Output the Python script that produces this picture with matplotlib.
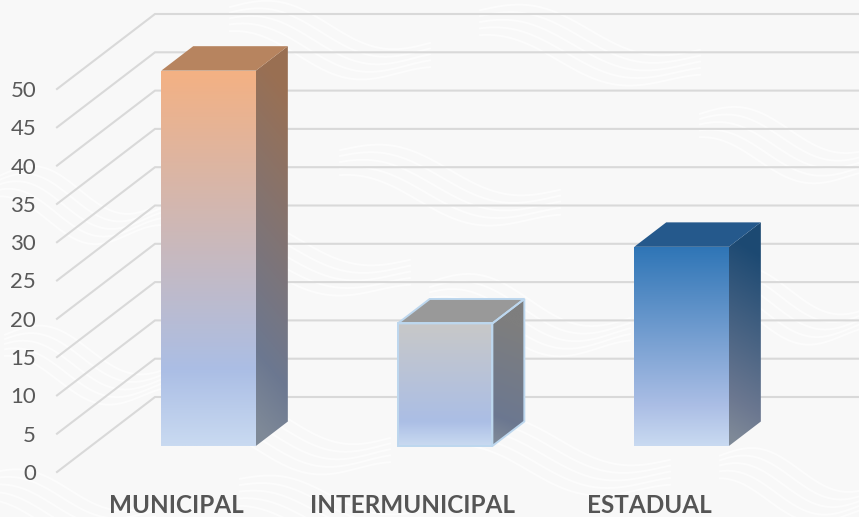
import numpy as np
import matplotlib
matplotlib.use('Agg')
import matplotlib.pyplot as plt
from matplotlib.colors import LinearSegmentedColormap
from matplotlib.patches import Polygon

categories = ['MUNICIPAL', 'INTERMUNICIPAL', 'ESTADUAL']
values = [49, 16, 26]
value_ticks = [0, 5, 10, 15, 20, 25, 30, 35, 40, 45, 50]
top_colors = ['#F4B183', '#C8C8C8', '#2E75B6']
lid_colors = ['#B7845F', '#999999', '#25598C']
edge_colors = ['none', '#BDD7EE', 'none']
mid_color = '#ABBEE5'
low_color = '#C9DAF1'

W, H = 859, 517
XSTEP = 236.5       # pixels per category
YSTEP = 7.66        # pixels per value unit
DEPTH_X = 98 / XSTEP
DEPTH_Y = 75 / YSTEP
BAR_W = 0.4
BAR_SHIFT = -0.006
D0, D1 = 0.347, 0.673

plt.rcParams['font.family'] = ['Lato', 'DejaVu Sans']

fig = plt.figure(figsize=(W / 100, H / 100), dpi=100, facecolor='#F8F8F8')

# faint wavy texture behind the chart
bg = fig.add_axes([0, 0, 1, 1])
bg.set_xlim(0, W)
bg.set_ylim(H, 0)
bg.axis('off')
def waves(cx, cy, length, amp, count=5, gap=9):
    x = np.linspace(cx - length / 2, cx + length / 2, 120)
    for i in range(count):
        y = cy + i * gap + amp * np.sin((x - cx + i * 8) / length * 2 * np.pi)
        y = y + (x - cx) * 0.18
        bg.plot(x, y, color='white', lw=1.4, alpha=0.6)

for cx, cy, ln, amp in [(330, 25, 200, 14), (590, 30, 220, 14), (790, 130, 180, 14),
                        (450, 170, 220, 14), (80, 190, 160, 16), (300, 240, 220, 14),
                        (530, 300, 200, 16), (790, 290, 170, 16), (90, 350, 170, 16),
                        (290, 420, 200, 14), (560, 440, 220, 14), (800, 470, 160, 14),
                        (70, 490, 170, 12), (330, 495, 180, 10)]:
    waves(cx, cy, ln, amp)

ax = fig.add_axes([57 / W, (H - 472) / H, (W - 57) / W, 472 / H])
ax.patch.set_alpha(0)
xlim = ((57 - 176) / XSTEP, (W - 176) / XSTEP)
ylim = (0, 472 / YSTEP)
ax.set_xlim(xlim)
ax.set_ylim(ylim)

def proj(x, depth, val):
    return x + depth * DEPTH_X, val + depth * DEPTH_Y

# floor/side wall lines and the back wall lines
for v in value_ticks:
    x0, y0 = proj(xlim[0], 0, v)
    x1, y1 = proj(xlim[0], 1, v)
    ax.plot([x0, x1, xlim[1]], [y0, y1, y1], color='#D9D9D9', lw=1.5, zorder=1,
            solid_joinstyle='miter', clip_on=False)

def ramp(c):
    return LinearSegmentedColormap.from_list('r', [(0, c), (0.8, mid_color), (1, low_color)])

def gradient_face(pts, img, cmap, zorder):
    xs, ys = zip(*pts)
    im = ax.imshow(img, extent=(min(xs), max(xs), min(ys), max(ys)), origin='upper',
                   aspect='auto', cmap=cmap, vmin=0, vmax=1, zorder=zorder,
                   interpolation='bilinear')
    im.set_clip_path(Polygon(pts, transform=ax.transData))

for i, (val, c) in enumerate(zip(values, top_colors)):
    xl = i - BAR_W / 2 + BAR_SHIFT
    xr = xl + BAR_W
    ec = edge_colors[i]
    fb, ft = proj(xl, D0, 0), proj(xl, D0, val)
    rb, rt = proj(xr, D0, 0), proj(xr, D0, val)
    bb, bt = proj(xr, D1, 0), proj(xr, D1, val)
    lt = proj(xl, D1, val)
    cmap = ramp(c)

    # front face, lit from above
    front = [fb, ft, rt, rb]
    gradient_face(front, np.linspace(0, 1, 256)[:, None], cmap, 3)
    ax.add_patch(Polygon(front, fill=False, edgecolor=ec, lw=1.4, zorder=5))

    # side face, same ramp darkened with a slanted run
    side = [rb, rt, bt, bb]
    yy, xx = np.mgrid[0:1:256j, 0:1:40j]
    span = val + (D1 - D0) * DEPTH_Y
    t = np.clip(yy * span / val - (D1 - D0) * DEPTH_Y / val - 0.10 * xx + 0.05, 0, 1)
    rgb = cmap(t)[..., :3] * 0.63
    gradient_face(side, rgb, None, 3)
    ax.add_patch(Polygon(side, fill=False, edgecolor=ec, lw=1.4, zorder=5))

    # lid
    ax.add_patch(Polygon([ft, lt, bt, rt], facecolor=lid_colors[i], edgecolor=ec, lw=1.4, zorder=4))

for s in ax.spines.values():
    s.set_visible(False)
ax.set_yticks(value_ticks)
ax.set_yticklabels([str(v) for v in value_ticks], fontsize=16, color='#595959')
ax.tick_params(axis='y', length=0, pad=15)
ax.set_xticks(range(len(categories)))
ax.set_xticklabels(categories, fontsize=17.5, fontweight='bold', color='#555555')
ax.tick_params(axis='x', length=0, pad=16)

fig.savefig('out.png', dpi=100, facecolor=fig.get_facecolor())
